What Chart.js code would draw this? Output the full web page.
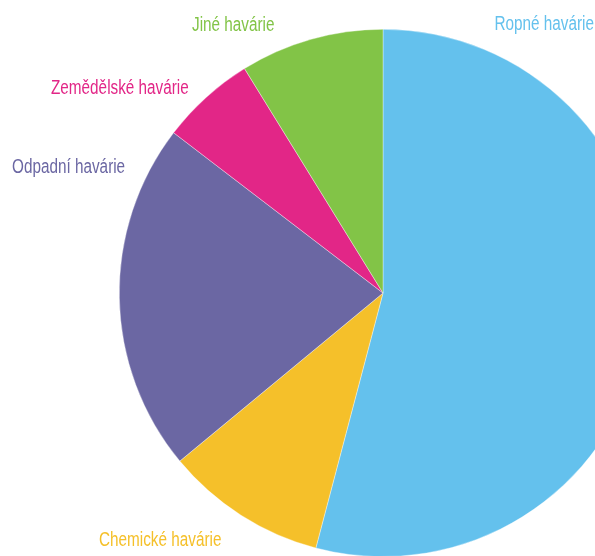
<!DOCTYPE html>
<html>
<head>
<meta charset="utf-8">
<script src="https://cdn.jsdelivr.net/npm/chart.js@4/dist/chart.umd.min.js"></script>
<style>
  html, body { margin: 0; padding: 0; background: #fff; overflow: hidden; }
  #wrap { position: relative; width: 595px; height: 556px; overflow: hidden; }
  #pie { position: absolute; left: 0; top: 0; }
</style>
</head>
<body>
<div id="wrap"><canvas id="pie" width="700" height="600"></canvas></div>
<script>
// ── Data ────────────────────────────────────────────────────────────────────

const categories = ["Ropné havárie", "Chemické havárie", "Odpadní havárie", "Zemědělské havárie", "Jiné havárie"];
const shares     = [54.1, 9.9, 21.4, 5.8, 8.8];
const colors     = ["#64c1ed", "#f5c02a", "#6b67a3", "#e22687", "#82c447"];

// ── Label plugin (text placed beside the pie like in the print) ────────────

const labelSpots = [
  { x: 594, y: 30,  align: "right" },
  { x: 99,  y: 546, align: "left" },
  { x: 12,  y: 173, align: "left" },
  { x: 51,  y: 94,  align: "left" },
  { x: 192, y: 31,  align: "left" },
];

// no condensed face installed -> squeeze a regular sans horizontally
const SQUEEZE = 0.765;

const sideLabels = {
  id: "sideLabels",
  afterDraw(chart) {
    const ctx = chart.ctx;
    chart.data.labels.forEach((lbl, i) => {
      const s = labelSpots[i];
      ctx.save();
      ctx.font = "20px 'Liberation Sans', Arial, sans-serif";
      ctx.textBaseline = "alphabetic";
      ctx.fillStyle = colors[i];
      ctx.textAlign = s.align;
      ctx.translate(s.x, s.y);
      ctx.scale(SQUEEZE, 1);
      ctx.fillText(lbl, 0, 0);
      ctx.restore();
    });
  }
};

// ── Chart ───────────────────────────────────────────────────────────────────

new Chart(document.getElementById("pie"), {
  type: "pie",
  data: {
    labels: categories,
    datasets: [{
      data: shares,
      backgroundColor: colors,
      borderColor: "rgba(255,255,255,0.6)",
      borderWidth: 0.6,
      hoverOffset: 0,
      offset: 0,
    }]
  },
  options: {
    responsive: false,
    animation: false,
    layout: { padding: { left: 119, top: 29, right: 53, bottom: 43 } },
    plugins: {
      legend: { display: false },
      tooltip: { enabled: false },
    }
  },
  plugins: [sideLabels]
});
</script>
</body>
</html>
